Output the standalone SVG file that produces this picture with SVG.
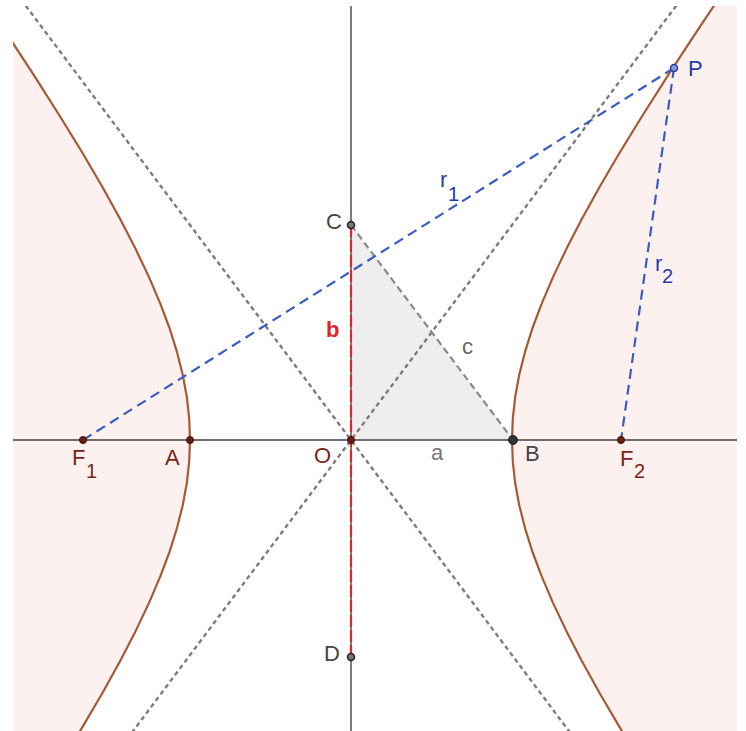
<svg xmlns="http://www.w3.org/2000/svg" width="746" height="731" viewBox="0 0 746 731">
<style>
.axis{stroke:#6e6e6e;stroke-width:1.8;fill:none}
.asym{stroke:#7c7c7c;stroke-width:2.4;stroke-dasharray:4.5 3.5;fill:none}
.hyp{stroke:#a65a34;stroke-width:2.2;fill:none;stroke-linejoin:round}
.region{fill:#fcf1ee;stroke:none}
.blue{stroke:#3b5cc4;stroke-width:2.2;stroke-dasharray:10 6;fill:none}
.red{stroke:#e0262c;stroke-width:2.2;stroke-dasharray:12 3;fill:none}
.cseg{stroke:#8a8a8a;stroke-width:2.2;stroke-dasharray:7 4;fill:none}
.lbl{font-family:"Liberation Sans",Arial,sans-serif;font-size:22px}
.sub{font-family:"Liberation Sans",Arial,sans-serif;font-size:20px}
.brown{fill:#7a2418}
.gray{fill:#444}
.lgray{fill:#777}
.bl{fill:#2a3aa8}
.pt{fill:#6b1f14;stroke:#3a0d08;stroke-width:1}
</style>
<defs>
<clipPath id="plot"><rect x="13" y="6" width="724" height="725"/></clipPath>
</defs>
<rect x="0" y="0" width="746" height="731" fill="#ffffff"/>
<g clip-path="url(#plot)">
<g id="regions">
<polygon class="region" points="642.5,764.5 619.6,727.2 599.4,692.7 581.7,660.7 566.3,630.9 553.1,603.1 541.9,576.9 532.5,552.0 525.1,528.3 519.3,505.5 515.2,483.3 512.8,461.5 512,440 512.8,418.5 515.2,396.7 519.3,374.5 525.1,351.7 532.5,328.0 541.9,303.1 553.1,276.9 566.3,249.1 581.7,219.3 599.4,187.3 619.6,152.8 642.5,115.5 668.3,74.8 697.3,30.6 729.7,-17.8 780,-20 780,780"/>
<polygon class="region" points="59.5,764.5 82.4,727.2 102.6,692.7 120.3,660.7 135.7,630.9 148.9,603.1 160.1,576.9 169.5,552.0 176.9,528.3 182.7,505.5 186.8,483.3 189.2,461.5 190,440 189.2,418.5 186.8,396.7 182.7,374.5 176.9,351.7 169.5,328.0 160.1,303.1 148.9,276.9 135.7,249.1 120.3,219.3 102.6,187.3 82.4,152.8 59.5,115.5 33.7,74.8 4.7,30.6 -27.7,-17.8 -40,-20 -40,780"/>
</g>
<g id="triangle">
<polygon points="351,440 513,440 351,225" fill="#eeeeee"/>
</g>
<g id="axes">
<line class="axis" x1="0" y1="440" x2="746" y2="440"/>
<line class="axis" x1="351" y1="0" x2="351" y2="731"/>
</g>
<g id="asymptotes">
<line class="asym" x1="6.5" y1="-20" x2="590.6" y2="760"/>
<line class="asym" x1="695.5" y1="-20" x2="111.4" y2="760"/>
</g>
<g id="hyperbola">
<polyline class="hyp" points="642.5,764.5 619.6,727.2 599.4,692.7 581.7,660.7 566.3,630.9 553.1,603.1 541.9,576.9 532.5,552.0 525.1,528.3 519.3,505.5 515.2,483.3 512.8,461.5 512,440 512.8,418.5 515.2,396.7 519.3,374.5 525.1,351.7 532.5,328.0 541.9,303.1 553.1,276.9 566.3,249.1 581.7,219.3 599.4,187.3 619.6,152.8 642.5,115.5 668.3,74.8 697.3,30.6 729.7,-17.8"/>
<polyline class="hyp" points="59.5,764.5 82.4,727.2 102.6,692.7 120.3,660.7 135.7,630.9 148.9,603.1 160.1,576.9 169.5,552.0 176.9,528.3 182.7,505.5 186.8,483.3 189.2,461.5 190,440 189.2,418.5 186.8,396.7 182.7,374.5 176.9,351.7 169.5,328.0 160.1,303.1 148.9,276.9 135.7,249.1 120.3,219.3 102.6,187.3 82.4,152.8 59.5,115.5 33.7,74.8 4.7,30.6 -27.7,-17.8"/>
</g>
</g>
<g id="connectors">
<line class="cseg" x1="351" y1="225" x2="513" y2="440"/>
<line class="red" x1="351" y1="225" x2="351" y2="657"/>
<line class="blue" x1="83" y1="440" x2="674" y2="68"/>
<line class="blue" x1="674" y1="68" x2="621" y2="440"/>
</g>
<g id="labels">
<text class="lbl lgray" x="431" y="460">a</text>
<text class="lbl" x="326" y="337" fill="#e0262c" font-weight="bold">b</text>
<text class="lbl" x="462" y="354" fill="#666">c</text>
<text class="lbl bl" x="440" y="187">r</text><text class="sub bl" x="448" y="201">1</text>
<text class="lbl bl" x="655" y="271">r</text><text class="sub bl" x="662" y="283">2</text>
</g>
<g id="F1"><circle class="pt" cx="83" cy="440" r="3.5"/><text class="lbl brown" x="72" y="465">F</text><text class="sub brown" x="86" y="478">1</text></g>
<g id="A"><circle class="pt" cx="190" cy="440" r="3.5"/><text class="lbl brown" x="165" y="465">A</text></g>
<g id="O"><circle class="pt" cx="351" cy="440" r="3.5"/><text class="lbl brown" x="314" y="463">O</text></g>
<g id="B"><circle cx="513" cy="440" r="4.5" fill="#333" stroke="#222" stroke-width="1"/><text class="lbl gray" x="525" y="461">B</text></g>
<g id="F2"><circle class="pt" cx="621" cy="440" r="3.5"/><text class="lbl brown" x="620" y="466">F</text><text class="sub brown" x="634" y="478">2</text></g>
<g id="C"><circle cx="351" cy="225" r="3.5" fill="#777" stroke="#222" stroke-width="1.5"/><text class="lbl gray" x="326" y="229">C</text></g>
<g id="D"><circle cx="351" cy="657" r="3.5" fill="#777" stroke="#222" stroke-width="1.5"/><text class="lbl gray" x="324" y="661">D</text></g>
<g id="P"><circle cx="674" cy="68" r="3.5" fill="#8a9ad8" stroke="#2a3aa8" stroke-width="1.5"/><text class="lbl bl" x="688" y="76">P</text></g>
</svg>
